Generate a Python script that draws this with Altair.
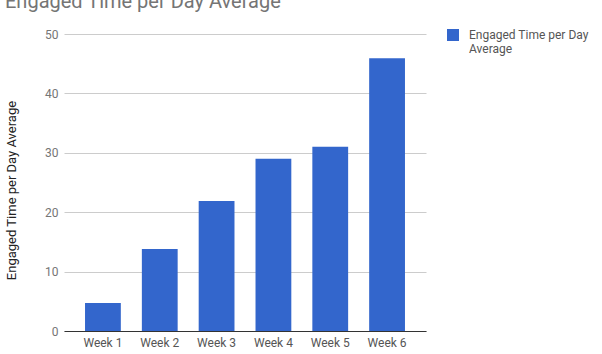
import altair as alt
import pandas as pd

weeks = ["Week 1", "Week 2", "Week 3", "Week 4", "Week 5", "Week 6"]
values = [4.7, 13.8, 21.9, 29.0, 31.0, 45.9]
series = ["Engaged Time per Day Average"] * len(weeks)

df = pd.DataFrame({"week": weeks, "value": values, "series": series})

FONT = "Roboto"

chart = alt.Chart(df).mark_bar(color="#3366cc").encode(
    x=alt.X("week:N", sort=weeks,
            scale=alt.Scale(paddingInner=0.37, paddingOuter=0.37),
            axis=alt.Axis(title=None, labelAngle=0, labelColor="#555555",
                          labelFontSize=12, labelFont=FONT, labelPadding=6,
                          grid=False, ticks=False, domainColor="#333333", domainWidth=1)),
    y=alt.Y("value:Q", scale=alt.Scale(domain=[0, 50], nice=False),
            axis=alt.Axis(title="Engaged Time per Day Average", values=[0, 10, 20, 30, 40, 50],
                          labelColor="#757575", labelFontSize=12, labelFont=FONT,
                          labelPadding=6, ticks=False, domain=False,
                          gridColor="#cccccc", gridWidth=1,
                          titleFont=FONT, titleFontSize=13, titleFontWeight="normal",
                          titleColor="#222222", titleAngle=-90,
                          titleX=-49, titleY=156, titleAlign="center",
                          titleBaseline="alphabetic")),
    color=alt.Color("series:N",
                    scale=alt.Scale(range=["#3366cc"]),
                    legend=alt.Legend(title=None, orient="none", legendX=383, legendY=-5,
                                      symbolType="square", symbolSize=144,
                                      symbolStrokeWidth=0,
                                      labelFont=FONT, labelFontSize=12,
                                      labelColor="#555555", labelOffset=10,
                                      labelLimit=200,
                                      labelExpr="['Engaged Time per Day', 'Average']")),
).properties(
    width=362,
    height=297,
    background="white",
    title=alt.TitleParams("Engaged Time per Day Average", anchor="start", frame="group",
                          font=FONT, fontSize=20, fontWeight="normal", color="#757575",
                          dx=-59, offset=0, baseline="alphabetic"),
    autosize=alt.AutoSizeParams(type="none"),
    padding={"left": 64, "top": 34, "right": 176, "bottom": 23},
).configure_view(strokeWidth=0)

chart.save("out.html", embed_options={"renderer": "svg", "actions": False})
